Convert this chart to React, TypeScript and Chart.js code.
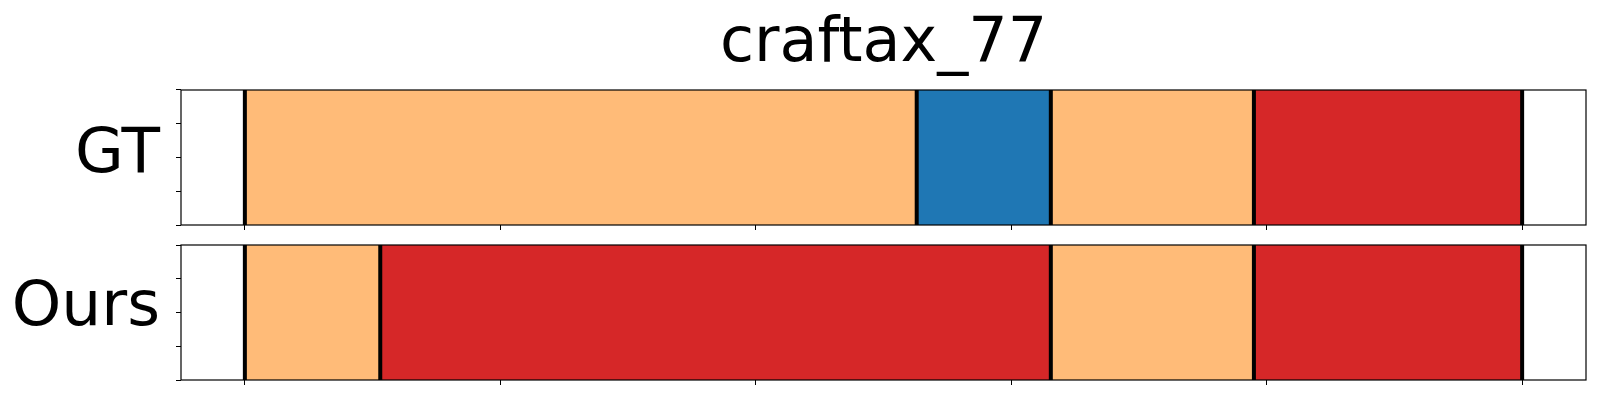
import React, { useEffect, useRef } from "react";
import { Chart, registerables } from "chart.js";

Chart.register(...registerables);

const TITLE = "craftax_77";
const X_TICKS = [0, 20, 40, 60, 80, 100];
const X_MIN = -5;
const X_MAX = 105;
const Y_TICKS = [0, 0.25, 0.5, 0.75, 1];

const GT_LABEL = "GT";
const GT_BOUNDS = [0, 52.6, 63.1, 79.0, 100];
const GT_CLASSES = ["orange", "blue", "orange", "red"];

const OURS_LABEL = "Ours";
const OURS_BOUNDS = [0, 10.6, 63.1, 79.0, 100];
const OURS_CLASSES = ["orange", "red", "orange", "red"];

const COLORS: Record<string, string> = {
  orange: "#ffbb78",
  blue: "#1f77b4",
  red: "#d62728",
};

const FONT = "'DejaVu Sans', sans-serif";

const framePlugin = {
  id: "frame",
  afterDatasetsDraw(chart: any) {
    const { ctx, chartArea } = chart;
    ctx.save();
    ctx.strokeStyle = "#000";
    ctx.lineWidth = 1.2;
    ctx.strokeRect(chartArea.left, chartArea.top, chartArea.right - chartArea.left, chartArea.bottom - chartArea.top);
    ctx.restore();
  },
};

type PanelProps = {
  label: string;
  bounds: number[];
  classes: string[];
  height: number;
  top: number;
  padTop: number;
  xAxisHeight: number;
  labelOffset: number;
  title?: string;
};

function Panel({ label, bounds, classes, height, top, padTop, xAxisHeight, labelOffset, title }: PanelProps) {
  const ref = useRef<HTMLCanvasElement | null>(null);
  useEffect(() => {
    if (!ref.current) return;
    const barSets = classes.map((c, i) => ({
      type: "bar" as const,
      label: c + i,
      data: [[bounds[i], bounds[i + 1]]],
      backgroundColor: COLORS[c],
      borderWidth: 0,
      grouped: false,
      barPercentage: 1,
      categoryPercentage: 1,
      xAxisID: "x",
      yAxisID: "y",
      order: 2,
    }));
    const lineSets = bounds.map((b, i) => ({
      type: "line" as const,
      label: "b" + i,
      data: [
        { x: b, y: 0 },
        { x: b, y: 1 },
      ],
      borderColor: "#000",
      borderWidth: 4,
      borderCapStyle: "butt",
      pointRadius: 0,
      fill: false,
      xAxisID: "x",
      yAxisID: "y2",
      order: 0,
    }));
    const chart = new Chart(ref.current, {
      type: "bar",
      data: { labels: [label], datasets: [...barSets, ...lineSets] as any },
      plugins: [framePlugin],
      options: {
        animation: false,
        responsive: false,
        maintainAspectRatio: false,
        devicePixelRatio: 1,
        indexAxis: "y",
        layout: { padding: { top: padTop, right: 14, left: 0, bottom: 0 } },
        plugins: {
          legend: { display: false },
          tooltip: { enabled: false },
          title: title
            ? {
                display: true,
                text: title,
                fullSize: false,
                color: "#000",
                font: { family: FONT, size: 62, weight: "normal", lineHeight: 1.2 },
                padding: { top: 7.8, bottom: 7.8 },
              }
            : { display: false },
        },
        scales: {
          x: {
            type: "linear",
            min: X_MIN,
            max: X_MAX,
            offset: false,
            afterBuildTicks: (s: any) => {
              s.ticks = X_TICKS.map((v) => ({ value: v }));
            },
            afterFit: (s: any) => {
              s.height = xAxisHeight;
              s.paddingLeft = 0;
              s.paddingRight = 0;
            },
            ticks: { callback: () => "", autoSkip: false, padding: 0 },
            grid: { offset: false, drawOnChartArea: false, drawTicks: true, tickLength: 5, color: "#000", lineWidth: 1 },
            border: { display: false },
          },
          y: {
            type: "category",
            display: false,
            offset: true,
          },
          y2: {
            type: "linear",
            axis: "y",
            position: "left",
            min: 0,
            max: 1,
            offset: false,
            afterBuildTicks: (s: any) => {
              s.ticks = Y_TICKS.map((v) => ({ value: v }));
            },
            afterFit: (s: any) => {
              s.width = 181;
              s.paddingTop = 0;
              s.paddingBottom = 0;
            },
            ticks: {
              autoSkip: false,
              callback: (v: any) => (v === 0.5 ? label : ""),
              color: "#000",
              font: { family: FONT, size: 63 },
              padding: 16,
              labelOffset,
            },
            grid: { offset: false, drawOnChartArea: false, drawTicks: true, tickLength: 5, color: "#000", lineWidth: 1 },
            border: { display: false },
          },
        },
      } as any,
    });
    return () => chart.destroy();
  }, []);
  return (
    <canvas
      ref={ref}
      width={1600}
      height={height}
      style={{ position: "absolute", left: 0, top, width: 1600, height }}
    />
  );
}

export default function App() {
  return (
    <div style={{ position: "absolute", left: 0, top: 0, width: 1600, height: 400, background: "#fff" }}>
      <Panel label={GT_LABEL} bounds={GT_BOUNDS} classes={GT_CLASSES} height={240} top={0} padTop={0} xAxisHeight={15} labelOffset={-2} title={TITLE} />
      <Panel label={OURS_LABEL} bounds={OURS_BOUNDS} classes={OURS_CLASSES} height={160} top={240} padTop={5} xAxisHeight={20} labelOffset={-4} />
    </div>
  );
}
